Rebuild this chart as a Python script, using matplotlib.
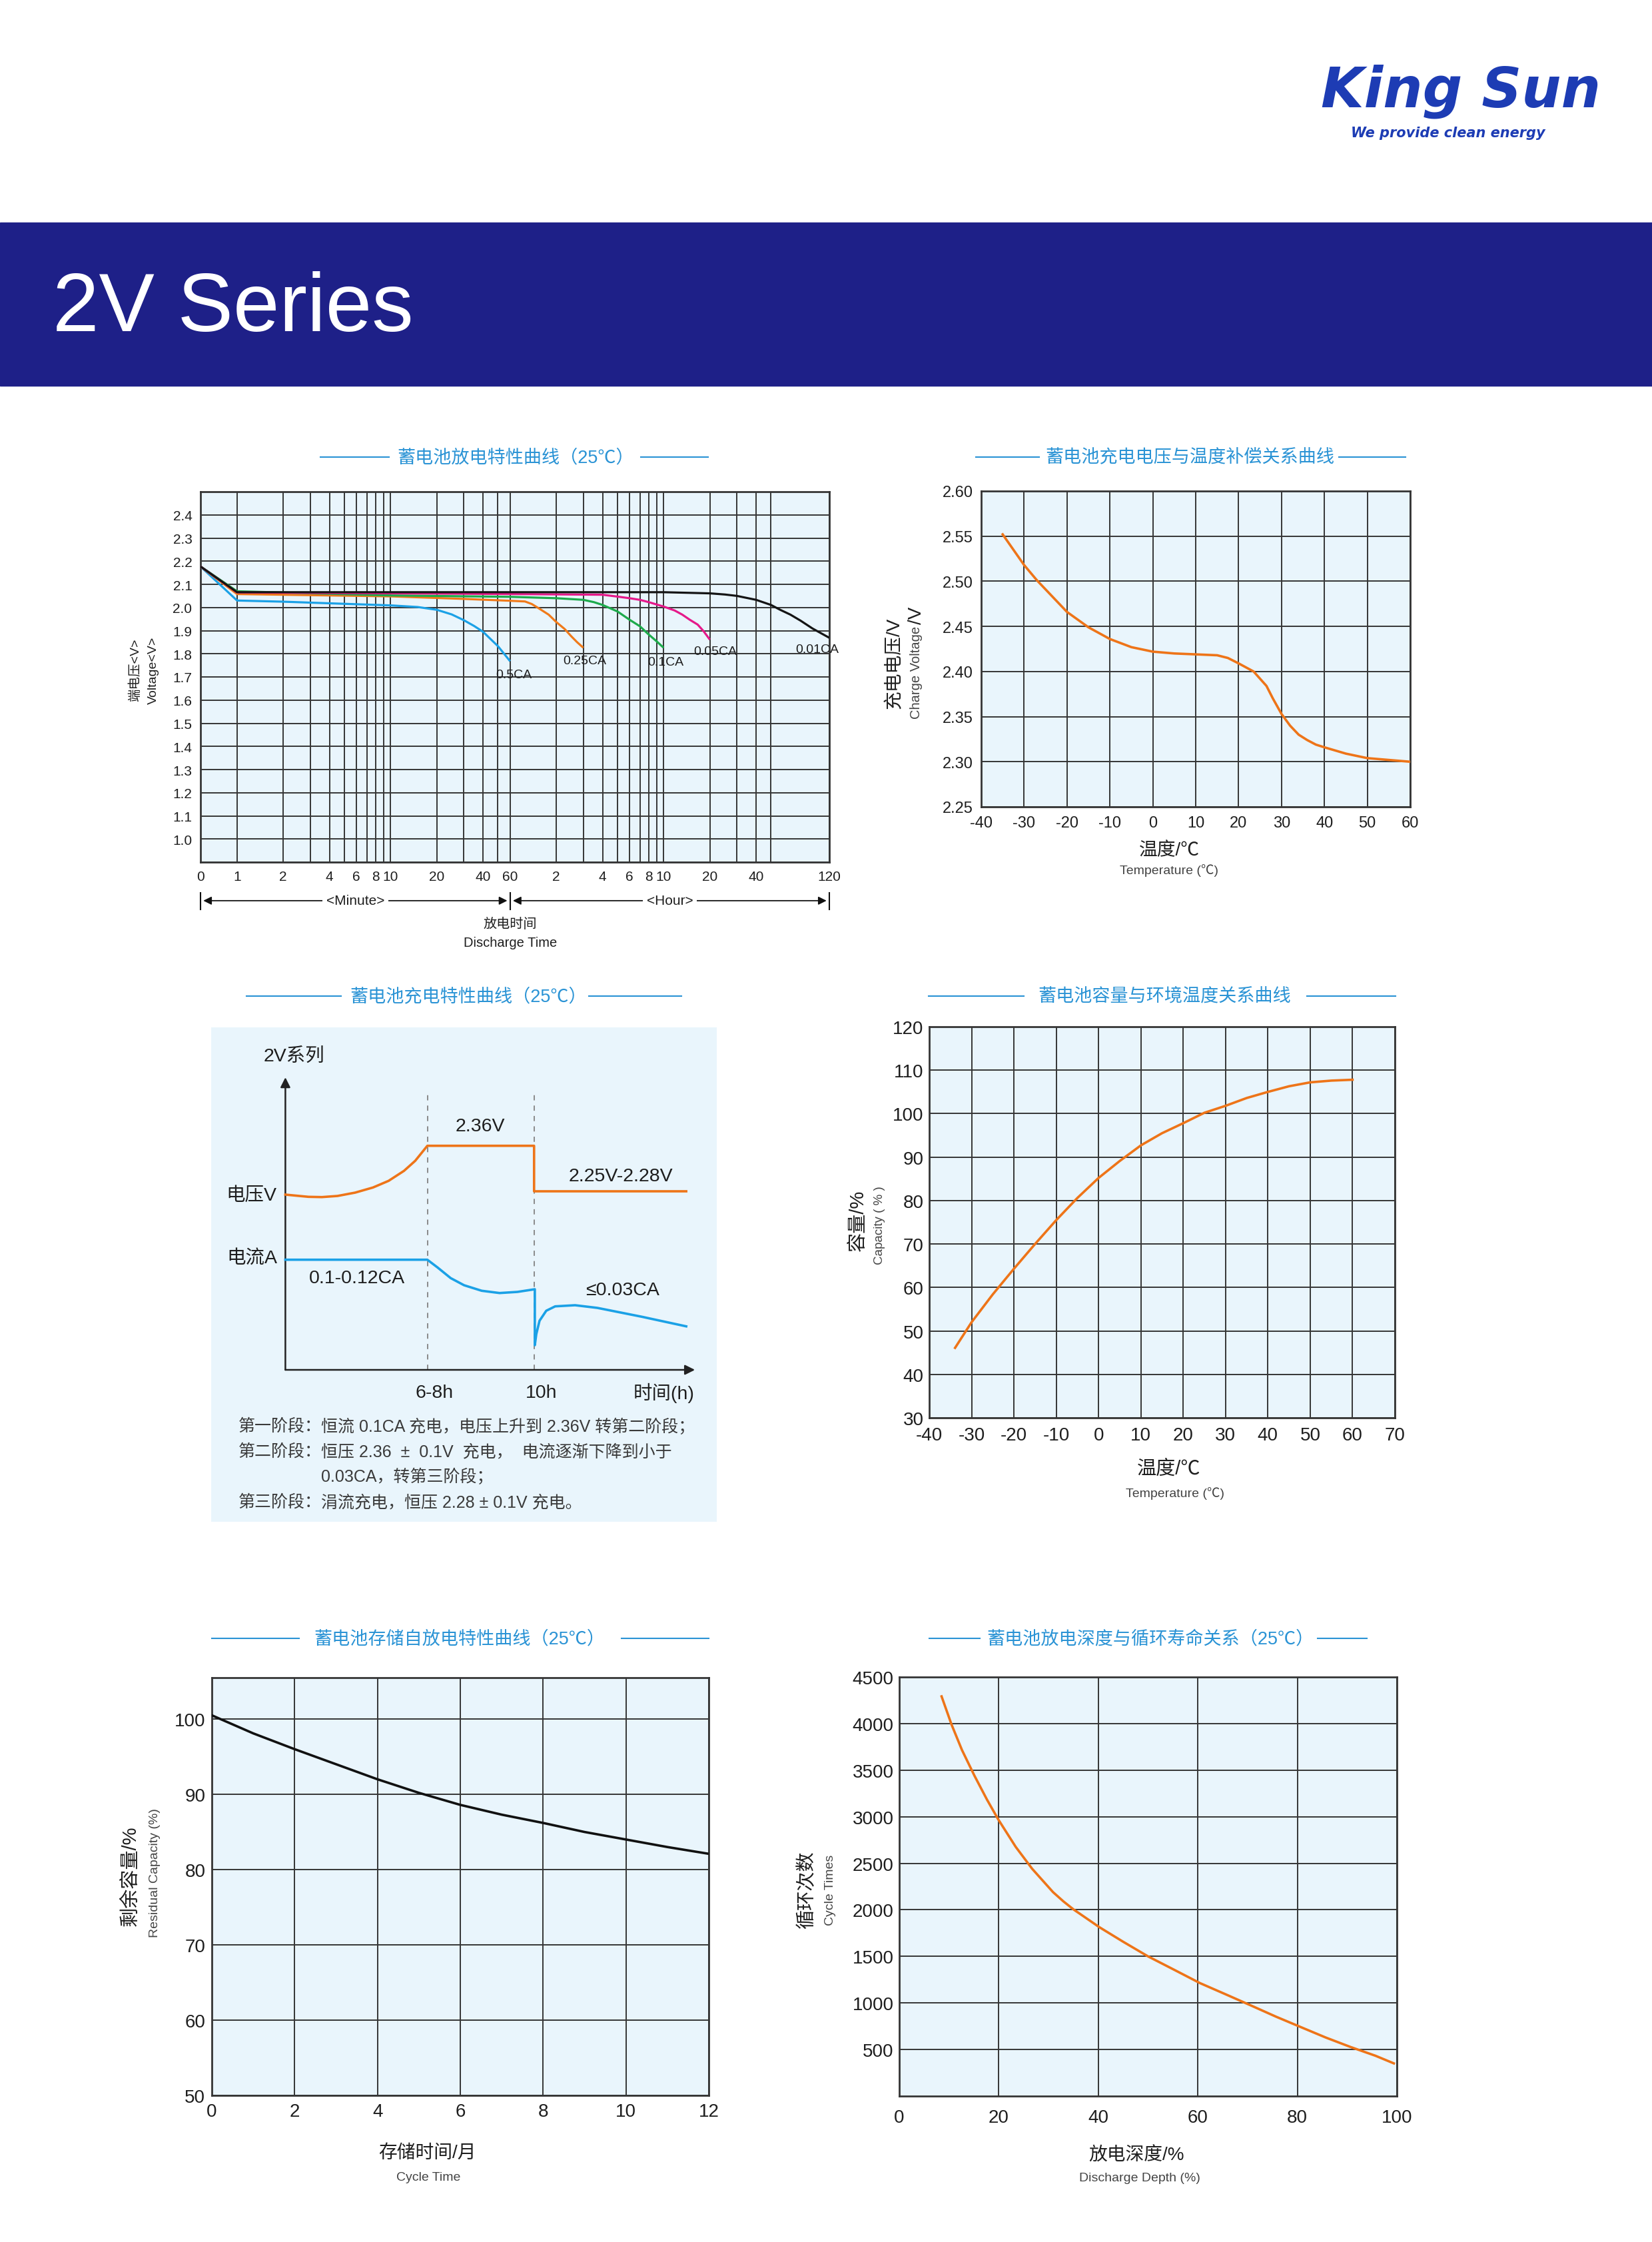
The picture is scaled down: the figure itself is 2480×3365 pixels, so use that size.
import numpy as np
import matplotlib
matplotlib.use("Agg")
import matplotlib.pyplot as plt
from matplotlib import font_manager
from matplotlib.lines import Line2D
from matplotlib.patches import Rectangle

W, H = 2480, 3366
DPI = 100

names = {f.name for f in font_manager.fontManager.ttflist}
LATIN = 'Liberation Sans' if 'Liberation Sans' in names else 'DejaVu Sans'
plt.rcParams['font.family'] = [LATIN, 'Noto Sans CJK SC', 'DejaVu Sans']
plt.rcParams['axes.unicode_minus'] = False

PANEL = '#E9F5FC'
GRID = '#353535'
TXT = '#1e1e1e'
TITLE_C = '#2A93D5'
ORANGE = '#EE7418'
BLUE = '#1BA1E6'

# ---------------- data ----------------
# chart 1: discharge curves, time in minutes, voltage in V
t_05 = [0, 1, 2, 4, 10, 15, 20, 25, 30, 35, 40, 50, 60]
v_05 = [2.177, 2.03, 2.025, 2.018, 2.009, 2.002, 1.99, 1.97, 1.945, 1.92, 1.895, 1.833, 1.768]
t_025 = [0, 1, 10, 30, 60, 75, 83, 92, 107, 120, 136, 150, 164, 180]
v_025 = [2.177, 2.058, 2.048, 2.037, 2.029, 2.026, 2.015, 1.997, 1.969, 1.937, 1.907, 1.876, 1.85, 1.826]
t_01 = [0, 1, 10, 60, 120, 180, 211, 240, 300, 360, 420, 480, 540, 600]
v_01 = [2.177, 2.07, 2.052, 2.046, 2.04, 2.033, 2.023, 2.011, 1.983, 1.947, 1.919, 1.883, 1.854, 1.826]
t_005 = [0, 1, 60, 240, 300, 360, 420, 480, 600, 708, 794, 888, 1000, 1094, 1200]
v_005 = [2.177, 2.065, 2.058, 2.055, 2.047, 2.04, 2.033, 2.023, 2.004, 1.987, 1.969, 1.947, 1.926, 1.897, 1.861]
t_001 = [0, 1, 60, 600, 1200, 1506, 1800, 2400, 3000, 3445, 4018, 4680, 5600, 7200]
v_001 = [2.177, 2.066, 2.066, 2.066, 2.061, 2.056, 2.05, 2.033, 2.011, 1.99, 1.969, 1.943, 1.909, 1.869]
dis_names = ['0.5CA', '0.25CA', '0.1CA', '0.05CA', '0.01CA']
dis_colors = ['#1BA1E6', '#F07A1A', '#1DAA4B', '#E5198A', '#141414']

dis_major = [0, 1, 2, 4, 6, 8, 10, 20, 40, 60, 120, 240, 360, 480, 600, 1200, 2400, 7200]
dis_major_lbl = ['0', '1', '2', '4', '6', '8', '10', '20', '40', '60',
                 '2', '4', '6', '8', '10', '20', '40', '120']
dis_minor = [3, 5, 7, 9, 30, 50, 180, 300, 420, 540, 1800, 3000]
dis_yticks = [1.0, 1.1, 1.2, 1.3, 1.4, 1.5, 1.6, 1.7, 1.8, 1.9, 2.0, 2.1, 2.2, 2.3, 2.4]
dis_ygrid = [0.9, 2.5]

# chart 2: charge voltage vs temperature
cv_temp = [-35, -30, -27, -20, -15, -10, -5, 0, 5, 10, 15, 17.5, 20, 23.5, 26.5, 28, 30, 32, 34,
           36, 38, 40, 45, 50, 55, 60]
cv_volt = [2.552, 2.518, 2.501, 2.466, 2.449, 2.436, 2.427, 2.422, 2.42, 2.419, 2.418, 2.415,
           2.409, 2.40, 2.384, 2.370, 2.353, 2.340, 2.330, 2.324, 2.319, 2.316, 2.309, 2.304,
           2.302, 2.300]
cv_xticks = [-40, -30, -20, -10, 0, 10, 20, 30, 40, 50, 60]
cv_yticks = [2.25, 2.30, 2.35, 2.40, 2.45, 2.50, 2.55, 2.60]
cv_ylbl = ['2.25', '2.30', '2.35', '2.40', '2.45', '2.50', '2.55', '2.60']

# chart 3: charging schematic (relative units)
ch_tv = [0, 0.93, 1.47, 2.10, 2.81, 3.53, 4.16, 4.78, 5.23, 5.72, 10.02, 10.02, 16.15]
ch_v = [2.63, 2.597, 2.593, 2.61, 2.66, 2.737, 2.837, 2.987, 3.137, 3.363, 3.363, 2.68, 2.68]
ch_ti = [0, 5.72, 6.13, 6.66, 7.2, 7.91, 8.63, 9.35, 10.05, 10.05, 10.11, 10.24, 10.51, 10.87,
         11.67, 12.57, 14.36, 16.15]
ch_i = [1.653, 1.653, 1.537, 1.377, 1.27, 1.187, 1.153, 1.17, 1.21, 0.37, 0.537, 0.737, 0.887,
        0.953, 0.97, 0.93, 0.797, 0.653]
ch_stage = [5.72, 10.02]
ch_stage_lbl = ['6-8h', '10h']

# chart 4: capacity vs temperature
cap_temp = [-33.9, -30, -25, -20, -15, -10, -5, 0, 5, 10, 15, 20, 25, 30, 35, 40, 45, 50, 55, 60]
cap_pct = [46.1, 52.0, 58.4, 64.3, 70.0, 75.5, 80.6, 85.2, 89.1, 92.7, 95.5, 97.8, 100.2, 101.8,
           103.6, 105.0, 106.3, 107.2, 107.6, 107.8]
cap_xticks = [-40, -30, -20, -10, 0, 10, 20, 30, 40, 50, 60, 70]
cap_yticks = [30, 40, 50, 60, 70, 80, 90, 100, 110, 120]

# chart 5: self discharge during storage
st_month = [0, 1, 2, 3, 4, 5, 6, 7, 8, 9, 10, 11, 12]
st_cap = [100.5, 98.1, 96.0, 94.0, 92.0, 90.2, 88.6, 87.3, 86.2, 85.0, 84.0, 83.0, 82.1]
st_xticks = [0, 2, 4, 6, 8, 10, 12]
st_yticks = [50, 60, 70, 80, 90, 100]

# chart 6: cycle life vs depth of discharge
dod = [8.5, 10.5, 12.6, 15.1, 17.6, 19.9, 23.4, 26.7, 30.9, 33.0, 35.0, 40.2, 45.0, 50.0, 55.0,
       60.4, 65.8, 70.8, 75.7, 80.6, 85.7, 90.7, 95.7, 99.4]
cycles = [4292, 3990, 3716, 3441, 3186, 2970, 2676, 2441, 2190, 2090, 2005, 1814, 1657, 1500, 1363,
          1214, 1088, 970, 853, 743, 629, 527, 433, 351]
cy_xticks = [0, 20, 40, 60, 80, 100]
cy_yticks = [500, 1000, 1500, 2000, 2500, 3000, 3500, 4000, 4500]

# ---------------- figure ----------------
fig = plt.figure(figsize=(W / DPI, H / DPI), dpi=DPI)
fig.patch.set_facecolor('white')


def box(l, t, r, b):
    return [l / W, 1 - b / H, (r - l) / W, (b - t) / H]


def fy(y):
    return 1 - y / H


def title(text, cx, cy, l1, l2):
    fig.text(cx / W, fy(cy), text, ha='center', va='center', fontsize=19.5, color=TITLE_C)
    for x0, x1 in (l1, l2):
        fig.add_artist(Line2D([x0 / W, x1 / W], [fy(cy)] * 2, transform=fig.transFigure,
                              color=TITLE_C, lw=1.5))


def frame(ax, fs, padx, pady):
    ax.set_facecolor(PANEL)
    for s in ax.spines.values():
        s.set_color(GRID)
        s.set_linewidth(2)
    ax.grid(True, which='both', color=GRID, lw=1.4)
    ax.tick_params(which='both', length=0, labelsize=fs, colors=TXT)
    ax.tick_params(axis='x', pad=padx)
    ax.tick_params(axis='y', pad=pady)


# header
fig.add_artist(Rectangle((0, fy(580)), 1, 245 / H, transform=fig.transFigure,
                         color='#1E2088', zorder=0))
fig.text(79 / W, fy(497), '2V Series', color='white', fontsize=90, ha='left', va='baseline',
         family=LATIN)
fig.text(1983 / W, fy(160), 'King Sun', color='#1D3CB4', fontsize=60, ha='left', va='baseline',
         family='DejaVu Sans', fontweight='bold', fontstyle='italic')
fig.text(2028 / W, fy(206), 'We provide clean energy', color='#1D3CB4', fontsize=15, ha='left',
         va='baseline', family='DejaVu Sans', fontweight='bold', fontstyle='italic')

# ---------- chart 1: discharge ----------
K0 = 0.238


def fwd(t):
    t = np.asarray(t, dtype=float)
    return np.where(t >= 1, np.log10(np.maximum(t, 1)), (t - 1) * K0)


def inv(u):
    u = np.asarray(u, dtype=float)
    return np.where(u >= 0, np.power(10.0, np.clip(u, 0, None)), u / K0 + 1)


ax1 = fig.add_axes(box(301, 739, 1245, 1295))
ax1.set_xscale('function', functions=(fwd, inv))
ax1.set_xlim(0, 7200)
ax1.set_ylim(0.9, 2.5)
ax1.set_xticks(dis_major)
ax1.set_xticklabels(dis_major_lbl)
ax1.set_xticks(dis_minor, minor=True)
ax1.set_yticks(dis_yticks)
ax1.set_yticklabels([f'{v:.1f}' for v in dis_yticks])
ax1.set_yticks(dis_ygrid, minor=True)
frame(ax1, 15, 9, 9)
series = [(t_05, v_05), (t_025, v_025), (t_01, v_01), (t_005, v_005), (t_001, v_001)]
for (tt, vv), c in zip(series, dis_colors):
    ax1.plot(tt, vv, color=c, lw=2.3, solid_capstyle='butt', zorder=3)
lbl_pos = [(63.5, 1.709), (184, 1.771), (620, 1.766), (1307, 1.811), (5985, 1.819)]
for name, (x, y) in zip(dis_names, lbl_pos):
    ax1.text(x, y, name, ha='center', va='center', fontsize=14, color=TXT, zorder=4,
             clip_on=False)
ax1.text(-0.104, 0.52, '端电压<V>', rotation=90, transform=ax1.transAxes, ha='center',
         va='center', fontsize=14, color=TXT)
ax1.text(-0.075, 0.52, 'Voltage<V>', rotation=90, transform=ax1.transAxes, ha='center',
         va='center', fontsize=14, color=TXT)

tr = ax1.get_xaxis_transform()
ya = -0.104
t_min_mid = float(inv((fwd(0) + fwd(60)) / 2))
t_hour_mid = float(inv((fwd(60) + fwd(7200)) / 2))
for a, b in ((0, 60), (60, 7200)):
    ax1.annotate('', xy=(b, ya), xytext=(a, ya), xycoords=tr, textcoords=tr,
                 arrowprops=dict(arrowstyle='<|-|>', color='#111', lw=1.3, mutation_scale=18,
                                 shrinkA=3, shrinkB=3), annotation_clip=False)
for x in (0, 60, 7200):
    ax1.plot([x, x], [-0.082, -0.128], transform=tr, color='#111', lw=1.5, clip_on=False)
ax1.text(t_min_mid, ya, '<Minute>', transform=tr, ha='center', va='center', fontsize=15,
         color=TXT, bbox=dict(facecolor='white', edgecolor='none', pad=4))
ax1.text(t_hour_mid, ya, '<Hour>', transform=tr, ha='center', va='center', fontsize=15,
         color=TXT, bbox=dict(facecolor='white', edgecolor='none', pad=4))
ax1.text(60, -0.167, '放电时间', transform=tr, ha='center', va='center', fontsize=14.5, color=TXT)
ax1.text(60, -0.216, 'Discharge Time', transform=tr, ha='center', va='center', fontsize=14.5,
         color=TXT)
title('蓄电池放电特性曲线（25℃）', 774, 687, (481, 584), (962, 1063))

# ---------- chart 2: charge voltage vs temperature ----------
ax2 = fig.add_axes(box(1473, 738, 2117, 1212))
ax2.set_xlim(-40, 60)
ax2.set_ylim(2.25, 2.60)
ax2.set_xticks(cv_xticks)
ax2.set_yticks(cv_yticks)
ax2.set_yticklabels(cv_ylbl)
frame(ax2, 17, 9, 9)
ax2.plot(cv_temp, cv_volt, color=ORANGE, lw=2.6, zorder=3)
ax2.text(-0.202, 0.458, '充电电压/V', rotation=90, transform=ax2.transAxes, ha='center',
         va='center', fontsize=20, color=TXT)
ax2.text(-0.151, 0.574, 'Charge Voltage', rotation=90, transform=ax2.transAxes, ha='center',
         va='top', fontsize=14.5, color='#444')
ax2.text(-0.151, 0.580, '/V', rotation=90, transform=ax2.transAxes, ha='center',
         va='bottom', fontsize=20, color=TXT)
ax2.text(0.438, -0.137, '温度/℃', transform=ax2.transAxes, ha='center', va='center',
         fontsize=20, color=TXT)
ax2.text(0.438, -0.2, 'Temperature (℃)', transform=ax2.transAxes, ha='center', va='center',
         fontsize=14, color='#444')
title('蓄电池充电电压与温度补偿关系曲线', 1786, 687, (1465, 1560), (2010, 2110))

# ---------- chart 3: charging schematic ----------
ax3 = fig.add_axes(box(317, 1543, 1076, 2285))
ax3.set_facecolor(PANEL)
for s in ax3.spines.values():
    s.set_visible(False)
ax3.set_xticks([])
ax3.set_yticks([])
ax3.set_xlim(-2.99, 17.38)
ax3.set_ylim(-2.28, 5.14)
for x in ch_stage:
    ax3.plot([x, x], [0, 4.18], color='#8a8a8a', lw=1.4, ls=(0, (4, 4)), zorder=2)
ax3.annotate('', xy=(0, 4.39), xytext=(0, 0),
             arrowprops=dict(arrowstyle='-|>', color='#222', lw=1.8, mutation_scale=22,
                             shrinkA=0, shrinkB=0))
ax3.annotate('', xy=(16.5, 0), xytext=(0, 0),
             arrowprops=dict(arrowstyle='-|>', color='#222', lw=1.8, mutation_scale=22,
                             shrinkA=0, shrinkB=0))
ax3.plot(ch_tv, ch_v, color=ORANGE, lw=2.6, zorder=3)
ax3.plot(ch_ti, ch_i, color=BLUE, lw=2.6, zorder=3)
fs3 = 20.5
ax3.text(-0.87, 4.70, '2V系列', ha='left', va='center', fontsize=fs3, color=TXT)
ax3.text(7.84, 3.656, '2.36V', ha='center', va='center', fontsize=fs3, color=TXT)
ax3.text(13.52, 2.91, '2.25V-2.28V', ha='center', va='center', fontsize=fs3, color=TXT)
ax3.text(-0.34, 2.62, '电压V', ha='right', va='center', fontsize=fs3, color=TXT)
ax3.text(-0.31, 1.674, '电流A', ha='right', va='center', fontsize=fs3, color=TXT)
ax3.text(2.875, 1.375, '0.1-0.12CA', ha='center', va='center', fontsize=fs3, color=TXT)
ax3.text(13.59, 1.203, '≤0.03CA', ha='center', va='center', fontsize=fs3, color=TXT)
for x, s in zip(ch_stage, ch_stage_lbl):
    ax3.text(x + 0.28, -0.34, s, ha='center', va='center', fontsize=fs3, color=TXT)
ax3.text(15.26, -0.34, '时间(h)', ha='center', va='center', fontsize=fs3, color=TXT)
para = [('第一阶段：', '恒流 0.1CA 充电，电压上升到 2.36V 转第二阶段；', -0.84),
        ('第二阶段：', '恒压 2.36  ±  0.1V  充电，  电流逐渐下降到小于', -1.22),
        ('', '0.03CA，转第三阶段；', -1.59),
        ('第三阶段：', '涓流充电，恒压 2.28 ± 0.1V 充电。', -1.98)]
for head, body, y in para:
    if head:
        ax3.text(-1.89, y, head, ha='left', va='center', fontsize=18, color='#3a3a3a')
    ax3.text(1.436, y, body, ha='left', va='center', fontsize=18, color='#3a3a3a')
title('蓄电池充电特性曲线（25℃）', 703, 1496, (370, 512), (884, 1023))

# ---------- chart 4: capacity vs temperature ----------
ax4 = fig.add_axes(box(1395, 1542, 2094, 2129))
ax4.set_xlim(-40, 70)
ax4.set_ylim(30, 120)
ax4.set_xticks(cap_xticks)
ax4.set_yticks(cap_yticks)
frame(ax4, 20, 9, 6)
ax4.plot(cap_temp, cap_pct, color=ORANGE, lw=2.6, zorder=3)
ax4.text(-0.153, 0.506, '容量/%', rotation=90, transform=ax4.transAxes, ha='center',
         va='center', fontsize=21, color=TXT)
ax4.text(-0.107, 0.493, 'Capacity ( % )', rotation=90, transform=ax4.transAxes, ha='center',
         va='center', fontsize=13.5, color='#444')
ax4.text(0.514, -0.129, '温度/℃', transform=ax4.transAxes, ha='center', va='center',
         fontsize=21, color=TXT)
ax4.text(0.528, -0.191, 'Temperature (℃)', transform=ax4.transAxes, ha='center', va='center',
         fontsize=14, color='#444')
title('蓄电池容量与环境温度关系曲线', 1748, 1496, (1394, 1537), (1962, 2095))

# ---------- chart 5: storage self discharge ----------
ax5 = fig.add_axes(box(318, 2519, 1064, 3146))
ax5.set_xlim(0, 12)
ax5.set_ylim(50, 105.5)
ax5.set_xticks(st_xticks)
ax5.set_yticks(st_yticks)
frame(ax5, 20, 8, 7)
ax5.plot(st_month, st_cap, color='#111', lw=2.6, zorder=3)
ax5.text(-0.164, 0.527, '剩余容量/%', rotation=90, transform=ax5.transAxes, ha='center',
         va='center', fontsize=21, color=TXT)
ax5.text(-0.114, 0.534, 'Residual Capacity (%)', rotation=90, transform=ax5.transAxes,
         ha='center', va='center', fontsize=14, color='#444')
ax5.text(0.433, -0.137, '存储时间/月', transform=ax5.transAxes, ha='center', va='center',
         fontsize=20, color=TXT)
ax5.text(0.436, -0.195, 'Cycle Time', transform=ax5.transAxes, ha='center', va='center',
         fontsize=14, color='#444')
title('蓄电池存储自放电特性曲线（25℃）', 690, 2460, (318, 449), (933, 1064))

# ---------- chart 6: cycle life ----------
ax6 = fig.add_axes(box(1350, 2518, 2097, 3147))
ax6.set_xlim(0, 100)
ax6.set_ylim(0, 4500)
ax6.set_xticks(cy_xticks)
ax6.set_yticks(cy_yticks)
frame(ax6, 20, 14, 6)
ax6.plot(dod, cycles, color=ORANGE, lw=2.6, zorder=3)
ax6.text(-0.186, 0.494, '循环次数', rotation=90, transform=ax6.transAxes, ha='center',
         va='center', fontsize=21, color=TXT)
ax6.text(-0.138, 0.493, 'Cycle Times', rotation=90, transform=ax6.transAxes, ha='center',
         va='center', fontsize=14, color='#444')
ax6.text(0.477, -0.141, '放电深度/%', transform=ax6.transAxes, ha='center', va='center',
         fontsize=20, color=TXT)
ax6.text(0.483, -0.194, 'Discharge Depth (%)', transform=ax6.transAxes, ha='center',
         va='center', fontsize=14, color='#444')
title('蓄电池放电深度与循环寿命关系（25℃）', 1727, 2460, (1395, 1471), (1978, 2052))

fig.savefig('out.png', dpi=DPI)
